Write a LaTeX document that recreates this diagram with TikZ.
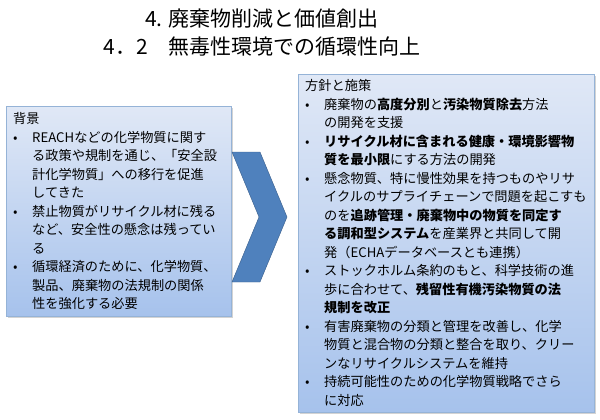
\documentclass[tikz,border=0pt]{standalone}
\usepackage{fontspec}
\setmainfont{Noto Sans CJK JP}
\usepackage{xcolor}
\usepackage{tikz}
\usetikzlibrary{shadows}

\definecolor{boxtop}{RGB}{224,232,246}
\definecolor{boxbottom}{RGB}{166,194,236}
\definecolor{boxline}{RGB}{149,179,215}
\definecolor{chevfill}{RGB}{79,129,189}
\definecolor{chevline}{RGB}{56,93,138}

\newcommand{\bitem}{\makebox[19pt][l]{•}}
\newcommand{\bcont}{\hspace*{19pt}}

\begin{document}
\begin{tikzpicture}[x=1pt,y=-1pt,
  infobox/.style={draw=boxline,top color=boxtop,bottom color=boxbottom,anchor=north west,
    inner xsep=7pt,inner ysep=0pt,align=left,font=\fontsize{13.2pt}{18.5pt}\selectfont,
    drop shadow={shadow xshift=2pt,shadow yshift=-2pt,opacity=.35}}]
\useasboundingbox (0,0) rectangle (600,420);
\node[font=\fontsize{21pt}{28pt}\selectfont,align=center] (title) at (262,33)
  {4. 廃棄物削減と価値創出\\4．2　無毒性環境での循環性向上};
% background box
\node[infobox,minimum height=210pt,text width=211pt] (bg) at (6,106) {背景\\
\bitem REACHなどの化学物質に関す\\
\bcont る政策や規制を通じ、「安全設\\
\bcont 計化学物質」への移行を促進\\
\bcont してきた\\
\bitem 禁止物質がリサイクル材に残る\\
\bcont など、安全性の懸念は残ってい\\
\bcont る\\
\bitem 循環経済のために、化学物質、\\
\bcont 製品、廃棄物の法規制の関係\\
\bcont 性を強化する必要};
% policy box
\node[infobox,minimum height=338pt,text width=282pt] (policy) at (298,74) {方針と施策\\
\bitem 廃棄物の\textbf{高度分別}と\textbf{汚染物質除去}方法\\
\bcont の開発を支援\\
\bitem \textbf{リサイクル材に含まれる健康・環境影響物}\\
\bcont \textbf{質を最小限}にする方法の開発\\
\bitem 懸念物質、特に慢性効果を持つものやリサ\\
\bcont イクルのサプライチェーンで問題を起こすも\\
\bcont のを\textbf{追跡管理・廃棄物中の物質を同定す}\\
\bcont \textbf{る調和型システム}を産業界と共同して開\\
\bcont 発（ECHAデータベースとも連携）\\
\bitem ストックホルム条約のもと、科学技術の進\\
\bcont 歩に合わせて、\textbf{残留性有機汚染物質の法}\\
\bcont \textbf{規制を改正}\\
\bitem 有害廃棄物の分類と管理を改善し、化学\\
\bcont 物質と混合物の分類と整合を取り、クリー\\
\bcont ンなリサイクルシステムを維持\\
\bitem 持続可能性のための化学物質戦略でさら\\
\bcont に対応};
% chevron between the boxes
\draw[fill=chevfill,draw=chevline,line join=miter] (232,152) -- (260,152) -- (287,217)
  -- (260,282) -- (232,282) -- (259,217) -- cycle;
\end{tikzpicture}
\end{document}
